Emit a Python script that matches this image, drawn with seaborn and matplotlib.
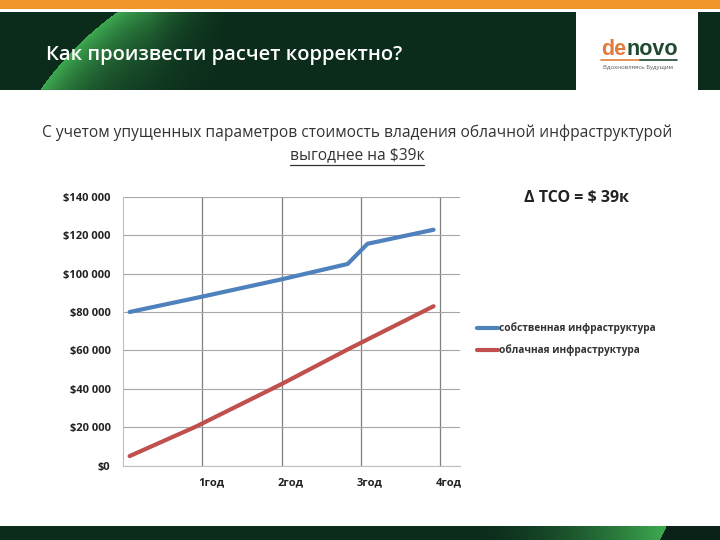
import numpy as np
import pandas as pd
import matplotlib
matplotlib.use("Agg")
import matplotlib.pyplot as plt
import matplotlib.transforms as mtransforms
from matplotlib.patches import Rectangle
from matplotlib.ticker import FuncFormatter, MultipleLocator
import seaborn as sns

# --- data (month index, cost in $) ---
MONTHS_OWN = [1, 12, 24, 34, 37, 47]
COST_OWN = [80000, 88000, 97000, 105000, 115500, 122800]
MONTHS_CLOUD = [1, 11, 12, 24, 34, 47]
COST_CLOUD = [5000, 20300, 22000, 42500, 60500, 83000]

SERIES = ["собственная инфраструктура", "облачная инфраструктура"]
COLORS = ["#4f81bd", "#c0504d"]
YEAR_TICKS = [1, 2, 3, 4]
YEAR_LABELS = ["1год", "2год", "3год", "4год"]
Y_TICKS = [0, 20000, 40000, 60000, 80000, 100000, 120000, 140000]

TITLE = "Как произвести расчет корректно?"
SUBTITLE_1 = "С учетом упущенных параметров стоимость владения облачной инфраструктурой"
SUBTITLE_2 = "выгоднее на $39к"
DELTA_TEXT = "Δ TCO = $ 39к"
LOGO_A, LOGO_B = "de", "novo"
LOGO_TAG = "Вдохновляясь Будущим"

DARK = np.array([11, 43, 27]) / 255
BRIGHT = np.array([62, 170, 80]) / 255


def money(v, _):
    return "$" + f"{v:,.0f}".replace(",", " ")


def main():
    sns.set_style("white")
    plt.rcParams["font.family"] = ["Open Sans", "DejaVu Sans"]

    df = pd.concat([
        pd.DataFrame({"month": MONTHS_OWN, "cost": COST_OWN, "series": SERIES[0]}),
        pd.DataFrame({"month": MONTHS_CLOUD, "cost": COST_CLOUD, "series": SERIES[1]}),
    ])
    df["year"] = df["month"] / 12

    fig = plt.figure(figsize=(7.2, 5.4), dpi=100)

    # background layer in pixel coordinates
    bg = fig.add_axes([0, 0, 1, 1])
    bg.set_xlim(0, 720)
    bg.set_ylim(540, 0)
    bg.axis("off")

    bg.add_patch(Rectangle((0, 0), 720, 8.5, color="#f0962a", lw=0))

    # top dark band with green arc glow on the left
    xs, ys = np.meshgrid(np.arange(720) + 0.5, np.arange(12, 90) + 0.5)
    dist = np.hypot(xs - 310, ys - 280)
    t = np.where(dist < 330, np.exp(-(330 - dist) / 40), 0.0)
    t *= np.clip((230 - xs) / 80, 0, 1)
    img = DARK + t[..., None] * (BRIGHT - DARK)
    bg.imshow(img, extent=(0, 720, 90, 12), aspect="auto", zorder=1)

    # logo box
    bg.add_patch(Rectangle((576, 12), 122, 78, color="white", lw=0, zorder=2))
    t_a = bg.text(601, 55, LOGO_A, color="#e07b39", fontsize=15.5, fontweight="bold",
                  family=["Liberation Sans", "DejaVu Sans"], va="baseline", ha="left", zorder=3)
    fig.canvas.draw()
    bb_a = t_a.get_window_extent().transformed(bg.transData.inverted())
    bg.text(bb_a.x1, 55, LOGO_B, color="#1f4a30", fontsize=15.5, fontweight="bold",
            family=["Liberation Sans", "DejaVu Sans"], va="baseline", ha="left", zorder=3)
    bg.plot([601, 640], [60, 60], color="#e07b39", lw=1.2, zorder=3)
    bg.plot([640, 677], [60, 60], color="#1f4a30", lw=1.2, zorder=3)
    bg.text(638, 67.5, LOGO_TAG, color="#555555", fontsize=4.3, ha="center",
            va="center", zorder=3)

    bg.text(46, 55, TITLE, color="white", fontsize=14.5, fontweight="semibold",
            ha="left", va="center", zorder=3)

    # bottom band
    xs, ys = np.meshgrid(np.arange(720) + 0.5, np.arange(526, 540) + 0.5)
    tb = np.clip((xs - 470) / 196, 0, 1) ** 1.6
    img2 = DARK + tb[..., None] * (BRIGHT - DARK)
    edge = 666.7 - (ys - 526) * (6.7 / 14)
    img2[xs > edge] = np.array([11, 34, 24]) / 255
    bg.imshow(img2, extent=(0, 720, 540, 526), aspect="auto", zorder=1)

    # subtitle
    bg.text(357, 133, SUBTITLE_1, color="#333333", fontsize=11.2, ha="center", va="center")
    sub2 = bg.text(357, 155, SUBTITLE_2, color="#333333", fontsize=11.2, ha="center", va="center")
    fig.canvas.draw()
    bb = sub2.get_window_extent().transformed(bg.transData.inverted())
    bg.plot([bb.x0, bb.x1], [164.5, 164.5], color="#333333", lw=0.9)

    bg.text(577, 198, DELTA_TEXT, color="#222222", fontsize=11.5, fontweight="bold",
            ha="center", va="center")

    # chart
    ax = fig.add_axes([123 / 720, 1 - 465.7 / 540, 337 / 720, 269 / 540])
    ax.set_facecolor("none")
    sns.lineplot(data=df, x="year", y="cost", hue="series", hue_order=SERIES,
                 palette=COLORS, linewidth=3, ax=ax, zorder=3)

    ax.set_xlim(0, 4.25)
    ax.set_ylim(0, 140000)
    ax.set_yticks(Y_TICKS)
    ax.yaxis.set_major_formatter(FuncFormatter(money))
    ax.set_xticks(YEAR_TICKS)
    ax.set_xticklabels(YEAR_LABELS)
    ax.xaxis.set_minor_locator(MultipleLocator(0.25))
    ax.set_xlabel("")
    ax.set_ylabel("")

    ax.grid(axis="y", color="#a6a6a6", lw=0.8)
    ax.grid(axis="x", which="major", color="#7f7f7f", lw=0.9)
    ax.set_axisbelow(True)
    for s in ["top", "right"]:
        ax.spines[s].set_visible(False)
    for s in ["left", "bottom"]:
        ax.spines[s].set_color("#bfbfbf")
        ax.spines[s].set_linewidth(0.8)

    ax.tick_params(axis="y", length=0, pad=9, labelsize=8, labelcolor="#222222")
    ax.tick_params(axis="x", which="major", length=5, color="#7f7f7f", pad=3,
                   labelsize=8, labelcolor="#222222")
    ax.tick_params(axis="x", which="minor", length=3, color="#a6a6a6")
    shift = mtransforms.ScaledTranslation(9 / 100, 0, fig.dpi_scale_trans)
    for lab in ax.get_xticklabels():
        lab.set_transform(lab.get_transform() + shift)
    for lab in ax.get_xticklabels() + ax.get_yticklabels():
        lab.set_fontweight("bold")

    handles, labels = ax.get_legend_handles_labels()
    leg = ax.legend(handles, labels, loc="center left",
                    bbox_to_anchor=(468 / 720, 1 - 339.5 / 540),
                    bbox_transform=fig.transFigure, frameon=False,
                    handlelength=2.1, handletextpad=0.1, labelspacing=1.0,
                    fontsize=7.3)
    for txt in leg.get_texts():
        txt.set_fontweight("bold")
        txt.set_color("#333333")

    fig.savefig("out.png", dpi=100)
    plt.close(fig)


if __name__ == "__main__":
    main()
